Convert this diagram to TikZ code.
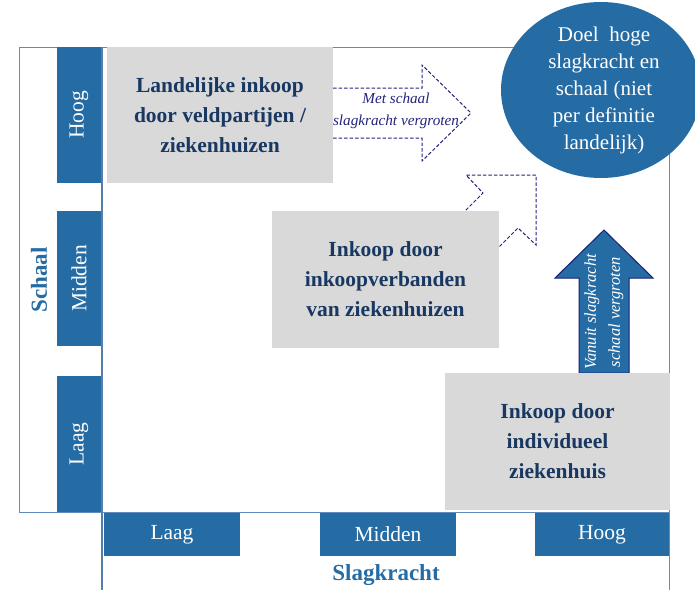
\documentclass[tikz,border=0pt]{standalone}
\usepackage{fontspec}
\setmainfont{Liberation Serif}
\usetikzlibrary{shapes.geometric}
\definecolor{axisblue}{RGB}{38,108,164}
\definecolor{frameblue}{RGB}{96,140,190}
\definecolor{cellgrey}{RGB}{217,217,217}
\definecolor{navytext}{RGB}{24,56,98}
\definecolor{dashblue}{RGB}{36,36,125}
\definecolor{arrowrim}{RGB}{28,30,120}
\tikzset{
  axisbox/.style={fill=axisblue, draw=none},
  axislabel/.style={text=white, font=\fontsize{21.5}{24}\selectfont},
  cell/.style={fill=cellgrey, draw=none},
  celltext/.style={text=navytext, align=center, font=\bfseries\fontsize{21.5}{30}\selectfont},
  frameline/.style={draw=frameblue, line width=1pt},
  dasharrow/.style={draw=dashblue, line width=1pt, dash pattern=on 3.5pt off 2pt, fill=white},
  axistitle/.style={text=axisblue, font=\bfseries\fontsize{23}{26}\selectfont}
}
\begin{document}
\begin{tikzpicture}[x=1pt, y=-1pt]
\useasboundingbox (0,0) rectangle (695,589);

% outer frame
\draw[frameline] (102,512) -- (19,512) -- (19,47) -- (669,47) -- (669,600);
\draw[frameline] (102,512) -- (669,512);
\draw[draw=frameblue!90!black, line width=2pt] (102,47) -- (102,600);

% dashed arrow: horizontal
\draw[dasharrow] (300,88) -- (422,88) -- (422,65) -- (471,113) -- (422,161) -- (422,138) -- (300,138) -- cycle;
\node (hlabel) at (396,111) [text=dashblue, align=center, font=\itshape\fontsize{15.2}{22}\selectfont] {Met schaal\\slagkracht vergroten};

% dashed arrow: diagonal
\draw[dasharrow] (423,253) -- (483,193) -- (466,175) -- (536,175) -- (536,245) -- (518,228) -- (458,288) -- cycle;

% solid arrow: upward
\draw[fill=axisblue, draw=arrowrim, line width=1pt] (579,373) -- (579,278) -- (555,278) -- (604,230) -- (653,278) -- (629,278) -- (629,373) -- cycle;
\node (vlabel) at (604,312) [rotate=90, text=white, align=center, font=\itshape\fontsize{16.5}{24}\selectfont] {Vanuit slagkracht\\schaal vergroten};

% grey cells
\path[cell] (107,47) rectangle (333,183);
\node (cellA) at (220,115) [celltext] {Landelijke inkoop\\door veldpartijen /\\ziekenhuizen};
\path[cell] (272,211) rectangle (499,348);
\node (cellB) at (385.5,279.5) [celltext] {Inkoop door\\inkoopverbanden\\van ziekenhuizen};
\path[cell] (445,373) rectangle (670,510);
\node (cellC) at (557.5,441.5) [celltext] {Inkoop door\\individueel\\ziekenhuis};

% goal ellipse
\node (goal) at (601,90) [ellipse, fill=axisblue, minimum width=200pt, minimum height=176pt, inner sep=0pt] {};
\node (goaltext) at (604,90) [text=white, align=center, font=\fontsize{21}{27}\selectfont] {Doel \ hoge\\slagkracht en\\schaal (niet\\per definitie\\landelijk)};

% vertical axis
\path[axisbox] (57,47) rectangle (101,183);
\node (yhigh) at (79,115) [axislabel, rotate=90] {Hoog};
\path[axisbox] (57,211) rectangle (101,346);
\node (ymid) at (79,278.5) [axislabel, rotate=90] {Midden};
\path[axisbox] (57,376) rectangle (101,512);
\node (ylow) at (79,444) [axislabel, rotate=90] {Laag};
\node (ytitle) at (39,280) [axistitle, rotate=90] {Schaal};

% horizontal axis
\path[axisbox] (104,513) rectangle (240,556);
\node (xlow) at (172,534.5) [axislabel] {Laag};
\path[axisbox] (320,513) rectangle (456,556);
\node (xmid) at (388,534.5) [axislabel] {Midden};
\path[axisbox] (535,513) rectangle (669,556);
\node (xhigh) at (602,535) [axislabel] {Hoog};
\node (xtitle) at (386,575) [axistitle] {Slagkracht};
\end{tikzpicture}
\end{document}
